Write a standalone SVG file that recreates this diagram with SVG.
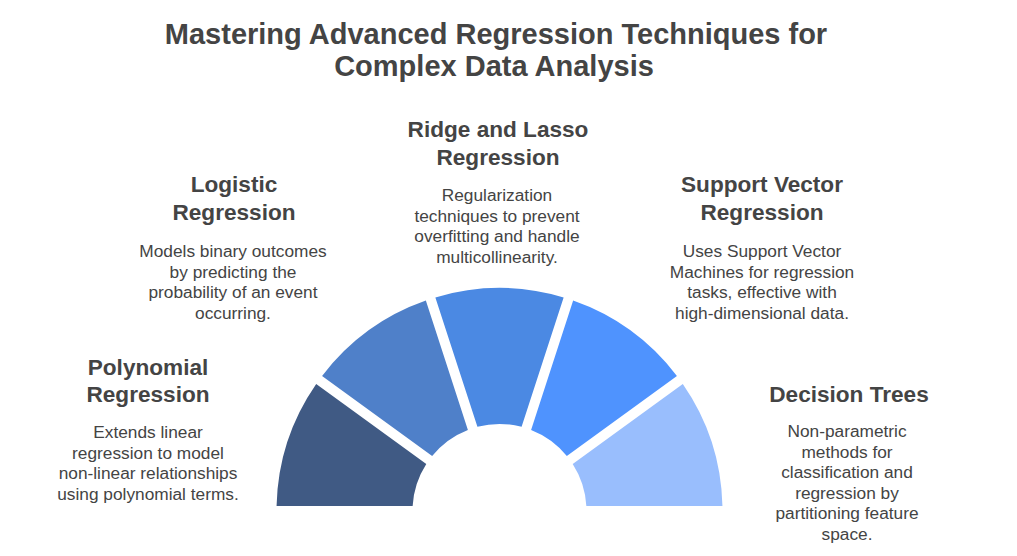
<svg xmlns="http://www.w3.org/2000/svg" width="1017" height="556" viewBox="0 0 1017 556">
<style>
.title{font-family:"Liberation Sans",Arial,sans-serif;font-weight:bold;font-size:29px;fill:#444444;text-anchor:middle}
.h{font-family:"Liberation Sans",Arial,sans-serif;font-weight:bold;font-size:22.6px;fill:#444444;text-anchor:middle}
.d{font-family:"Liberation Sans",Arial,sans-serif;font-size:17.3px;fill:#444444;text-anchor:middle}
</style>
<rect width="1017" height="556" fill="#ffffff"/>
<g id="title">
<text class="title" x="496" y="43.5">Mastering Advanced Regression Techniques for</text>
<text class="title" x="494" y="75.5">Complex Data Analysis</text>
</g>
<g id="segments">
<path id="seg1" fill="#405A84" d="M276.56 506 A223 223 0 0 1 316.2 384 L426.29 463.99 A87 87 0 0 0 412.64 506 Z"/>
<path id="seg2" fill="#4F80C9" d="M322.08 375.91 A223 223 0 0 1 425.85 300.52 L467.9 429.93 A87 87 0 0 0 432.17 455.89 Z"/>
<path id="seg3" fill="#4B89E3" d="M435.36 297.42 A223 223 0 0 1 563.64 297.42 L521.59 426.84 A87 87 0 0 0 477.41 426.84 Z"/>
<path id="seg4" fill="#4F93FE" d="M573.15 300.52 A223 223 0 0 1 676.92 375.91 L566.83 455.89 A87 87 0 0 0 531.1 429.93 Z"/>
<path id="seg5" fill="#99BEFD" d="M682.8 384 A223 223 0 0 1 722.44 506 L586.36 506 A87 87 0 0 0 572.71 463.99 Z"/>
</g>
<g id="connectors"></g>
<g id="node-polynomial">
<text class="h" x="148" y="375">Polynomial</text>
<text class="h" x="148" y="402">Regression</text>
<text class="d" x="148" y="438">Extends linear</text>
<text class="d" x="148" y="458.5">regression to model</text>
<text class="d" x="148" y="479">non-linear relationships</text>
<text class="d" x="148" y="499.5">using polynomial terms.</text>
</g>
<g id="node-logistic">
<text class="h" x="234" y="192">Logistic</text>
<text class="h" x="234" y="220">Regression</text>
<text class="d" x="233" y="257">Models binary outcomes</text>
<text class="d" x="233" y="277.5">by predicting the</text>
<text class="d" x="233" y="298">probability of an event</text>
<text class="d" x="233" y="318.5">occurring.</text>
</g>
<g id="node-ridge">
<text class="h" x="498" y="137">Ridge and Lasso</text>
<text class="h" x="498" y="165">Regression</text>
<text class="d" x="497" y="201">Regularization</text>
<text class="d" x="497" y="221.5">techniques to prevent</text>
<text class="d" x="497" y="242">overfitting and handle</text>
<text class="d" x="497" y="262.5">multicollinearity.</text>
</g>
<g id="node-svr">
<text class="h" x="762" y="192">Support Vector</text>
<text class="h" x="762" y="220">Regression</text>
<text class="d" x="762" y="257">Uses Support Vector</text>
<text class="d" x="762" y="277.5">Machines for regression</text>
<text class="d" x="762" y="298">tasks, effective with</text>
<text class="d" x="762" y="318.5">high-dimensional data.</text>
</g>
<g id="node-decision">
<text class="h" x="849" y="402">Decision Trees</text>
<text class="d" x="847" y="437">Non-parametric</text>
<text class="d" x="847" y="457.5">methods for</text>
<text class="d" x="847" y="478">classification and</text>
<text class="d" x="847" y="498.5">regression by</text>
<text class="d" x="847" y="519">partitioning feature</text>
<text class="d" x="847" y="539.5">space.</text>
</g>
</svg>
